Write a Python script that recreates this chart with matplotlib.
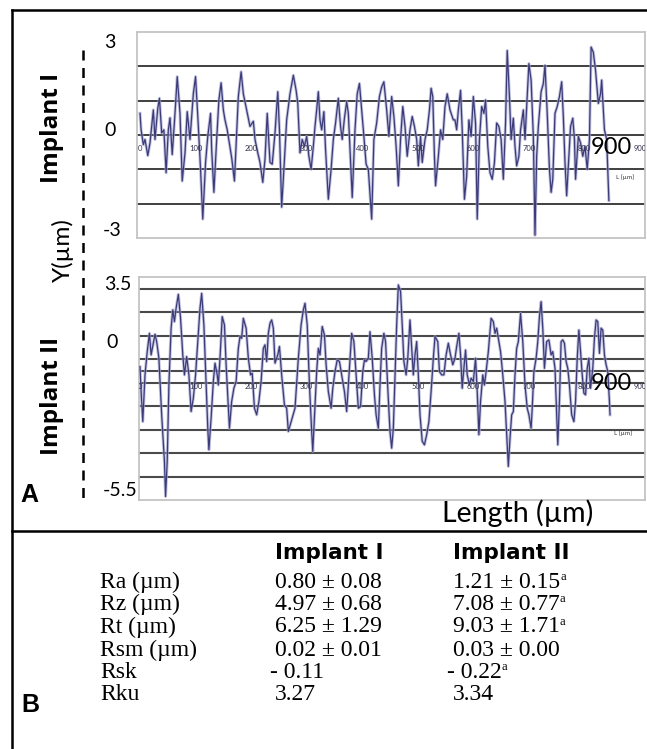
import matplotlib
matplotlib.use("Agg")
import matplotlib.pyplot as plt

W, H = 647, 749

# surface profiles: (position um, height um)
implant1_profile = [
    (0, 0.63), (2, 0.15), (6, -0.28), (9, -0.13), (14, -0.6), (18, -0.23), (24, 0.73), (27, -0.13),
    (32, 0.78), (35, 1.07), (39, 0.06), (43, 0.15), (47, -1.1), (51, 0.15), (54, 0.5), (58, -0.57),
    (63, 0.63), (67, 1.7), (72, 0.63), (76, -1.34), (81, -0.52), (85, 0.68), (90, -0.13), (96, 1.2),
    (100, 1.7), (105, 0.25), (109, -1.0), (113, -2.45), (118, -0.8), (122, -0.04), (127, 0.63),
    (129, -0.42), (133, -1.67), (138, -0.13), (142, 1.02), (146, 1.52), (150, 0.73), (153, 0.44),
    (157, 0.15), (165, -0.66), (170, -1.34), (174, 0.06), (177, 1.12), (182, 1.84), (186, 1.2),
    (192, 0.73), (198, 0.25), (204, 0.4), (207, -0.13), (212, -0.52), (216, -0.8), (221, -1.38),
    (225, -0.7), (229, 0.63), (234, -0.8), (238, -0.85), (243, 0.06), (248, 1.26), (251, 0.15),
    (255, -2.1), (259, -1.0), (264, 0.44), (270, 1.2), (276, 1.74), (281, 1.3), (284, 0.92),
    (288, -0.52), (292, -0.13), (296, -0.33), (300, -0.04), (304, -0.62), (308, -1.0), (312, -0.33),
    (315, 0.25), (318, 0.73), (321, 1.26), (324, 0.44), (327, 0.15), (331, 0.68), (334, -0.42),
    (339, -1.87), (344, -1.0), (348, -0.13), (352, 0.35), (357, 1.07), (361, 0.25), (364, -0.13),
    (368, 0.49), (372, 0.97), (375, 0.63), (379, -0.8), (382, -1.82), (387, 0.15), (391, 1.2),
    (395, 1.5), (399, 0.73), (403, -0.04), (407, -0.85), (411, -1.0), (417, -2.45), (421, -0.13),
    (426, 0.35), (431, 1.12), (435, 1.4), (439, 1.55), (444, 0.73), (448, -0.04), (453, 1.12),
    (457, 0.54), (461, -0.33), (465, -1.48), (469, -0.13), (473, 0.83), (477, 0.25), (481, -0.62),
    (486, 0.15), (490, 0.54), (494, 0.25), (498, -0.13), (501, -0.9), (505, -0.04), (508, -0.8),
    (513, -0.13), (517, 0.15), (521, 0.73), (524, 1.36), (527, 1.12), (530, -0.62), (532, -1.48),
    (537, -0.62), (541, 0.15), (545, -0.13), (549, 0.83), (553, 1.2), (558, 0.73), (564, 0.44),
    (567, 0.44), (570, 0.15), (573, 0.73), (577, 1.3), (580, 0.15), (584, -1.87), (588, -1.2),
    (592, 0.44), (596, -0.04), (600, 1.12), (604, 0.35), (607, -2.45), (611, -0.13), (615, 0.83),
    (619, 0.63), (622, 1.02), (626, -0.33), (630, -1.1), (634, -1.29), (638, -0.8), (642, 0.35),
    (646, 0.25), (650, -0.13), (654, -1.29), (658, 0.35), (661, 2.46), (665, 1.12), (668, -0.13),
    (672, 0.49), (675, -0.33), (678, -0.9), (682, -0.62), (685, 0.15), (690, 0.73), (693, -0.13),
    (697, 1.12), (700, 2.08), (704, 1.6), (708, -0.04), (711, -2.92), (714, -0.62), (717, 0.25),
    (722, 1.26), (726, 1.5), (729, 2.03), (733, 0.63), (737, -1.0), (740, -1.67), (743, -1.29),
    (747, 0.63), (751, 0.83), (755, 1.12), (759, 1.55), (762, 0.54), (765, -0.8), (768, -1.77),
    (772, -0.62), (775, 0.25), (779, 0.49), (782, -0.13), (784, -1.29), (789, -0.04), (793, -0.23),
    (797, -0.62), (801, -0.33), (805, -1.0), (809, -0.13), (812, 2.56), (816, 2.41), (820, 1.88),
    (825, 0.92), (829, 1.2), (831, 1.6), (836, 0.15), (840, -0.13), (844, -1.91),
]

implant2_profile = [
    (0, 0.18), (2, -0.88), (5, -2.16), (9, -0.17), (13, 0.82), (17, 1.6), (20, 0.68), (24, 1.18),
    (27, 1.56), (30, 1.25), (34, 0.54), (39, -1.87), (44, -3.86), (46, -5.35), (49, -3.86),
    (52, -0.6), (56, 1.82), (59, 2.6), (62, 2.1), (65, 2.67), (69, 3.26), (73, 2.24), (77, 0.68),
    (80, -0.17), (84, 0.61), (88, -0.17), (92, -1.73), (96, -1.16), (100, -0.17), (105, 1.6),
    (108, 2.67), (111, 3.3), (115, 1.96), (119, -0.6), (122, -2.44), (124, -3.36), (128, -2.01),
    (132, -0.45), (135, 0.33), (139, -0.17), (141, -0.6), (144, 0.54), (148, 2.31), (152, 1.96),
    (155, 0.26), (159, -1.59), (161, -2.44), (165, -1.3), (169, -0.74), (173, -0.45), (177, 0.96),
    (180, 1.46), (183, 1.39), (186, 2.24), (191, 1.82), (195, 0.54), (199, -0.17), (202, -0.1),
    (206, -1.59), (210, -1.87), (214, -1.3), (218, -0.45), (222, 0.96), (225, 1.11), (228, 0.4),
    (231, 1.6), (234, 2.03), (237, 2.17), (240, 1.82), (243, 0.33), (248, 0.68), (251, 1.04),
    (255, -0.17), (260, -1.45), (264, -1.59), (267, -2.58), (279, -1.59), (285, 0.54), (290, 1.96),
    (294, 2.6), (297, 2.88), (301, 1.96), (305, -0.6), (309, -2.58), (311, -3.43), (314, -2.01),
    (318, -0.03), (321, 0.96), (324, 0.68), (328, 1.89), (332, 1.53), (335, 0.26), (339, -0.88),
    (344, -1.59), (347, -0.74), (351, -0.03), (355, 0.47), (359, 0.4), (363, -0.17), (368, -0.88),
    (372, -1.73), (375, -0.6), (378, 0.54), (381, 1.6), (385, 1.25), (389, -0.17), (393, -1.59),
    (397, -1.52), (401, -0.03), (404, 0.47), (407, 0.4), (411, 0.54), (414, 1.67), (418, 0.54),
    (422, -1.02), (425, -1.87), (429, -2.44), (432, -0.6), (435, 0.96), (439, 1.6), (442, 1.25),
    (446, -0.74), (450, -2.58), (453, -3.29), (456, -2.44), (459, -0.31), (462, 1.96), (465, 3.66),
    (469, 3.38), (472, 1.96), (475, 0.4), (479, -0.17), (482, 0.54), (486, 2.17), (489, 0.96),
    (492, -0.17), (495, 0.68), (498, 1.25), (501, -0.17), (504, -1.87), (508, -3.0), (512, -3.15),
    (516, -2.72), (520, -2.16), (524, -0.88), (528, 0.54), (531, 1.46), (536, 1.25), (539, -0.03),
    (543, -0.17), (547, -0.17), (551, 0.68), (555, 1.18), (559, 0.68), (563, 0.26), (567, 0.54),
    (570, 1.04), (574, 1.6), (577, 0.68), (580, -0.74), (583, 0.11), (586, 0.89), (589, -0.17),
    (593, -0.6), (596, -0.31), (600, -0.45), (604, 0.54), (607, -0.88), (610, -2.72), (613, -1.3),
    (617, -0.17), (620, -0.6), (623, -0.03), (627, 0.82), (632, 2.24), (636, 2.1), (639, 1.6),
    (642, 1.82), (645, 1.39), (649, 0.82), (653, -0.17), (657, -1.3), (660, -2.72), (663, -4.07),
    (666, -2.87), (669, -1.87), (672, -1.73), (675, -0.17), (678, 0.96), (681, 1.25), (685, 2.45),
    (689, 1.25), (693, -0.6), (697, -1.59), (700, -1.87), (704, -2.44), (706, -1.59), (709, -0.03),
    (713, 0.54), (716, 1.25), (719, 2.31), (722, 2.95), (725, 1.82), (728, 0.11), (732, 1.25),
    (736, 1.32), (740, 0.68), (743, 0.82), (747, 0.11), (750, -1.87), (752, -3.15), (755, -1.3),
    (758, 1.25), (761, 1.32), (764, 1.18), (767, 0.4), (770, 0.11), (773, -0.6), (777, -1.87),
    (781, -2.16), (784, -1.3), (787, 0.54), (790, 1.74), (793, 0.82), (796, -0.17), (799, -0.95),
    (802, -1.02), (805, 0.11), (808, 0.54), (811, -0.74), (815, 0.11), (818, 1.39), (821, 2.17),
    (824, 2.1), (827, 0.75), (830, 1.82), (833, 1.74), (836, 0.68), (839, 0.26), (842, -0.03),
    (845, -1.3), (846, -1.87),
]

grid1 = [-2, -1, 0, 1, 2]
grid2 = [3.5, 2.5, 1.5, 0.5, 0, -0.5, -1.5, -2.5, -3.5, -4.5]
length_ticks = [0, 100, 200, 300, 400, 500, 600, 700, 800, 900]

params = ["Ra (\u00b5m)", "Rz (\u00b5m)", "Rt (\u00b5m)", "Rsm (\u00b5m)", "Rsk", "Rku"]
implant1_vals = ["0.80 \u00b1 0.08", "4.97 \u00b1 0.68", "6.25 \u00b1 1.29", "0.02 \u00b1 0.01", "- 0.11", "3.27"]
implant2_vals = ["1.21 \u00b1 0.15", "7.08 \u00b1 0.77", "9.03 \u00b1 1.71", "0.03 \u00b1 0.00", "- 0.22", "3.34"]
implant2_sup = ["a", "a", "a", "", "a", ""]

sans = ["Lato", "DejaVu Sans"]
serif = ["Liberation Serif", "DejaVu Serif"]


def profile_axes(rect_px, ylim, grid, data, tick_y, grid_col, grid_lw):
    x0, y0, x1, y1 = rect_px
    ax = fig.add_axes([x0 / W, 1 - y1 / H, (x1 - x0) / W, (y1 - y0) / H])
    # x: 0 um at px 140, 900 um at px 640
    ax.set_xlim((x0 - 140) * 1.8, (x1 - 140) * 1.8)
    ax.set_ylim(*ylim)
    ax.set_xticks([])
    ax.set_yticks([])
    for s in ax.spines.values():
        s.set_color("#c4c4c4")
        s.set_linewidth(1.3)
    for g in grid:
        ax.axhline(g, color=grid_col, lw=grid_lw, zorder=1)
    xs = [p[0] for p in data]
    ys = [p[1] for p in data]
    ax.plot(xs, ys, color="#a9a9d0", lw=2.2, alpha=0.7, zorder=2)
    ax.plot(xs, ys, color="#3b3b7a", lw=0.9, zorder=3)
    for t in length_ticks:
        ax.text(t, tick_y, str(t), fontsize=5.5, color="#33334d", ha="center", va="center",
                family=sans, zorder=4, clip_on=True)
    return ax


fig = plt.figure(figsize=(W / 100, H / 100), dpi=100)

ax1 = profile_axes((137, 32, 645, 238), (-3, 3), grid1, implant1_profile, -0.38, "#303030", 1.3)
ax2 = profile_axes((139, 277, 645, 500), (-5.5, 4.0), grid2, implant2_profile, -0.68, "#4a4a4a", 1.5)

# overlay axes in picture pixels for the labels, frame and table
ov = fig.add_axes([0, 0, 1, 1], facecolor="none")
ov.set_xlim(0, W)
ov.set_ylim(H, 0)
ov.axis("off")

for yy in (148, 383):
    ov.text(611, yy, "900", fontsize=17, family=sans, ha="center", va="center")
ov.text(625, 177, "L [\u00b5m]", fontsize=4.5, family=sans, ha="center", va="center", color="#333")
ov.text(623, 433, "L [\u00b5m]", fontsize=4.5, family=sans, ha="center", va="center", color="#333")

# y value labels
for lab, x, y in [("3", 110, 43), ("0", 110, 131), ("-3", 112, 230),
                  ("3.5", 118, 284), ("0", 112, 342), ("-5.5", 120, 490)]:
    ov.text(x, y, lab, fontsize=14, family=sans, ha="center", va="center")

bold_rot = ["Open Sans", "DejaVu Sans"]
ov.text(52, 128, "Implant I", fontsize=17.5, fontweight="bold", family=bold_rot,
        rotation=90, ha="center", va="center")
ov.text(52, 396, "Implant II", fontsize=17.5, fontweight="bold", family=bold_rot,
        rotation=90, ha="center", va="center")
ov.text(63, 250, "Y(\u00b5m)", fontsize=17.5, family=sans, rotation=90, ha="center", va="center")
ov.plot([83, 83], [50, 505], color="black", lw=1.8, ls=(0, (4, 3)))

ov.text(29, 495, "A", fontsize=18, fontweight="bold", family=["Liberation Sans"],
        ha="center", va="center")
ov.text(518, 513, "Length (\u00b5m)", fontsize=20.5, family=sans, ha="center", va="center")

# frame lines
ov.plot([12, 647], [10, 10], color="black", lw=1.8)
ov.plot([12, 12], [10, 749], color="black", lw=1.8)
ov.plot([12, 647], [531, 531], color="black", lw=1.8)

# panel B table
ov.text(329, 553, "Implant I", fontsize=15.5, fontweight="bold", family=["DejaVu Sans"],
        ha="center", va="center")
ov.text(511, 553, "Implant II", fontsize=15.5, fontweight="bold", family=["DejaVu Sans"],
        ha="center", va="center")
row_y = [582, 604, 627, 650, 672, 695]
for i, yy in enumerate(row_y):
    ov.text(100, yy, params[i], fontsize=17, family=serif, ha="left", va="center")
    x1 = 270 if implant1_vals[i].startswith("-") else 275
    ov.text(x1, yy, implant1_vals[i], fontsize=17, family=serif, ha="left", va="center")
    x2 = 447 if implant2_vals[i].startswith("-") else 453
    t2 = ov.text(x2, yy, implant2_vals[i], fontsize=17, family=serif, ha="left", va="center")
    if implant2_sup[i]:
        ov.annotate(implant2_sup[i], xy=(1, 0.72), xycoords=t2, xytext=(0, 0),
                    textcoords="offset points", fontsize=9, family=serif, ha="left", va="center")

ov.text(30, 705, "B", fontsize=18, fontweight="bold", family=["Liberation Sans"],
        ha="center", va="center")

fig.savefig("out.png", dpi=100)
